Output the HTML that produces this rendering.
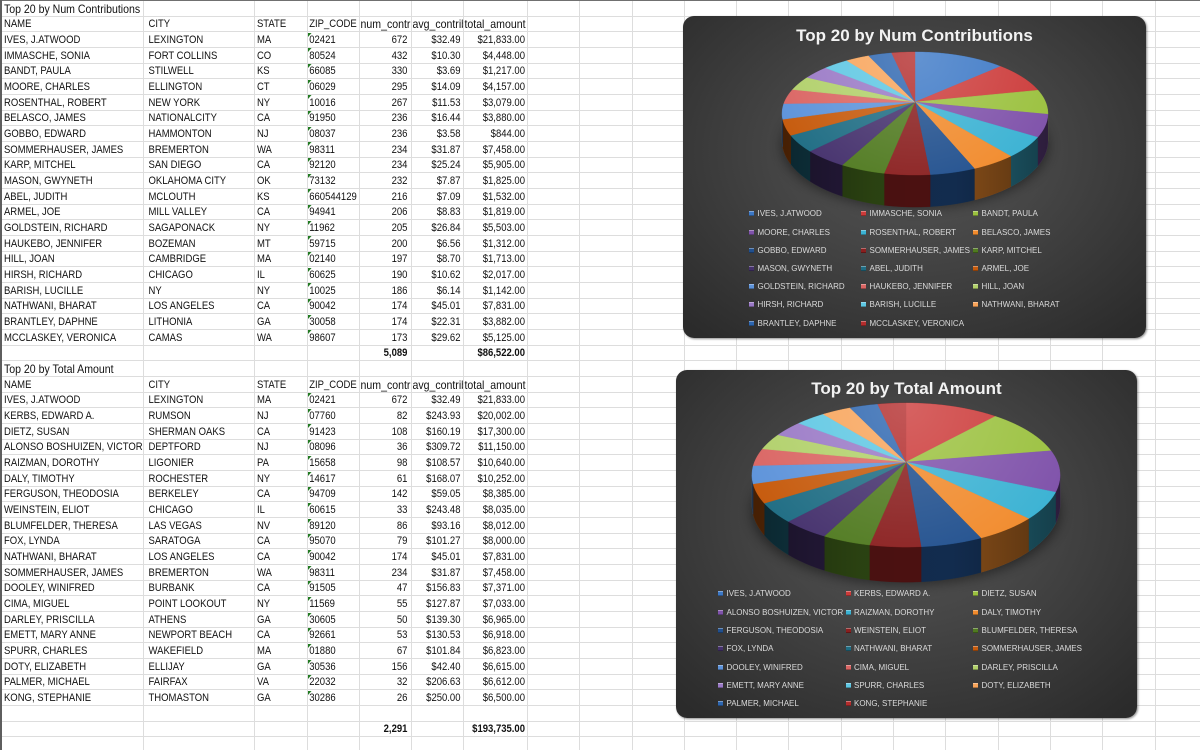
<!DOCTYPE html>
<html>
<head>
<meta charset="utf-8">
<style>
  html,body{margin:0;padding:0;}
  body{width:1200px;height:750px;position:relative;overflow:hidden;background:#fff;font-family:"Liberation Sans",Arial,sans-serif;color:#111;}
  #grid{position:absolute;left:0;top:0;}
  .r{position:absolute;left:0;width:700px;height:15.67px;font-size:10.8px;transform:scaleX(0.88);transform-origin:0 0;}
  .r span{position:absolute;top:1.2px;height:15.67px;line-height:15.67px;overflow:hidden;white-space:nowrap;box-sizing:border-box;}
  .c0{left:0;width:162.5px;padding-left:4.5px;}
  .c1{left:162.5px;width:126.1px;padding-left:6.25px;}
  .c2{left:288.6px;width:60.3px;padding-left:3.4px;}
  .c3{left:348.9px;width:59.1px;padding-left:2.5px;}
  .c4{left:408px;width:59px;text-align:right;padding-right:4px;}
  .c5{left:467px;width:59.1px;text-align:right;padding-right:2.8px;}
  .c6{left:526.1px;width:72.8px;text-align:right;padding-right:2.3px;}
  .r span.l{text-align:left;padding-left:1.7px;padding-right:0;}
  .r span.v{overflow:visible;}
  .r span.mx{font-size:12px;}
  .r span.b{font-weight:bold;}
  .t{position:absolute;left:350px;top:1px;width:0;height:0;border-top:4px solid #217a21;border-right:4.5px solid transparent;}
  .chart{position:absolute;border-radius:11px;background:radial-gradient(ellipse 70% 75% at 50% 42%,#555 0%,#464646 40%,#2b2b2b 100%);box-shadow:1px 1px 2px rgba(0,0,0,.45);}
  .title{position:absolute;text-align:center;color:#f2f2f2;font-weight:bold;font-size:17px;line-height:20px;white-space:nowrap;}
  .lt{position:absolute;font-size:8px;line-height:10px;color:#dadada;white-space:nowrap;}
  .m{position:absolute;width:5px;height:5px;box-shadow:inset 0 1px 0 rgba(255,255,255,.35),inset 0 -1px 0 rgba(0,0,0,.3);}
  #pies{position:absolute;left:0;top:0;}
</style>
</head>
<body>
<svg id="grid" width="1200" height="750"></svg>

<!-- Table 1 -->
<div class="r" style="top:0.4px"><span class="c0 v mx">Top 20 by Num Contributions</span></div>
<div class="r" style="top:16.07px"><span class="c0">NAME</span><span class="c1">CITY</span><span class="c2">STATE</span><span class="c3">ZIP_CODE</span><span class="c4 l mx">num_contributions</span><span class="c5 l mx">avg_contribution</span><span class="c6 l v mx">total_amount</span></div>
<div class="r" style="top:31.74px"><span class="c0">IVES, J.ATWOOD</span><span class="c1">LEXINGTON</span><span class="c2">MA</span><i class="t"></i><span class="c3">02421</span><span class="c4">672</span><span class="c5">$32.49</span><span class="c6">$21,833.00</span></div>
<div class="r" style="top:47.41px"><span class="c0">IMMASCHE, SONIA</span><span class="c1">FORT COLLINS</span><span class="c2">CO</span><i class="t"></i><span class="c3">80524</span><span class="c4">432</span><span class="c5">$10.30</span><span class="c6">$4,448.00</span></div>
<div class="r" style="top:63.08px"><span class="c0">BANDT, PAULA</span><span class="c1">STILWELL</span><span class="c2">KS</span><i class="t"></i><span class="c3">66085</span><span class="c4">330</span><span class="c5">$3.69</span><span class="c6">$1,217.00</span></div>
<div class="r" style="top:78.75px"><span class="c0">MOORE, CHARLES</span><span class="c1">ELLINGTON</span><span class="c2">CT</span><i class="t"></i><span class="c3">06029</span><span class="c4">295</span><span class="c5">$14.09</span><span class="c6">$4,157.00</span></div>
<div class="r" style="top:94.42px"><span class="c0">ROSENTHAL, ROBERT</span><span class="c1">NEW YORK</span><span class="c2">NY</span><i class="t"></i><span class="c3">10016</span><span class="c4">267</span><span class="c5">$11.53</span><span class="c6">$3,079.00</span></div>
<div class="r" style="top:110.09px"><span class="c0">BELASCO, JAMES</span><span class="c1">NATIONALCITY</span><span class="c2">CA</span><i class="t"></i><span class="c3">91950</span><span class="c4">236</span><span class="c5">$16.44</span><span class="c6">$3,880.00</span></div>
<div class="r" style="top:125.76px"><span class="c0">GOBBO, EDWARD</span><span class="c1">HAMMONTON</span><span class="c2">NJ</span><i class="t"></i><span class="c3">08037</span><span class="c4">236</span><span class="c5">$3.58</span><span class="c6">$844.00</span></div>
<div class="r" style="top:141.43px"><span class="c0">SOMMERHAUSER, JAMES</span><span class="c1">BREMERTON</span><span class="c2">WA</span><i class="t"></i><span class="c3">98311</span><span class="c4">234</span><span class="c5">$31.87</span><span class="c6">$7,458.00</span></div>
<div class="r" style="top:157.1px"><span class="c0">KARP, MITCHEL</span><span class="c1">SAN DIEGO</span><span class="c2">CA</span><i class="t"></i><span class="c3">92120</span><span class="c4">234</span><span class="c5">$25.24</span><span class="c6">$5,905.00</span></div>
<div class="r" style="top:172.77px"><span class="c0">MASON, GWYNETH</span><span class="c1">OKLAHOMA CITY</span><span class="c2">OK</span><i class="t"></i><span class="c3">73132</span><span class="c4">232</span><span class="c5">$7.87</span><span class="c6">$1,825.00</span></div>
<div class="r" style="top:188.44px"><span class="c0">ABEL, JUDITH</span><span class="c1">MCLOUTH</span><span class="c2">KS</span><i class="t"></i><span class="c3">660544129</span><span class="c4">216</span><span class="c5">$7.09</span><span class="c6">$1,532.00</span></div>
<div class="r" style="top:204.11px"><span class="c0">ARMEL, JOE</span><span class="c1">MILL VALLEY</span><span class="c2">CA</span><i class="t"></i><span class="c3">94941</span><span class="c4">206</span><span class="c5">$8.83</span><span class="c6">$1,819.00</span></div>
<div class="r" style="top:219.78px"><span class="c0">GOLDSTEIN, RICHARD</span><span class="c1">SAGAPONACK</span><span class="c2">NY</span><i class="t"></i><span class="c3">11962</span><span class="c4">205</span><span class="c5">$26.84</span><span class="c6">$5,503.00</span></div>
<div class="r" style="top:235.45px"><span class="c0">HAUKEBO, JENNIFER</span><span class="c1">BOZEMAN</span><span class="c2">MT</span><i class="t"></i><span class="c3">59715</span><span class="c4">200</span><span class="c5">$6.56</span><span class="c6">$1,312.00</span></div>
<div class="r" style="top:251.12px"><span class="c0">HILL, JOAN</span><span class="c1">CAMBRIDGE</span><span class="c2">MA</span><i class="t"></i><span class="c3">02140</span><span class="c4">197</span><span class="c5">$8.70</span><span class="c6">$1,713.00</span></div>
<div class="r" style="top:266.79px"><span class="c0">HIRSH, RICHARD</span><span class="c1">CHICAGO</span><span class="c2">IL</span><i class="t"></i><span class="c3">60625</span><span class="c4">190</span><span class="c5">$10.62</span><span class="c6">$2,017.00</span></div>
<div class="r" style="top:282.46px"><span class="c0">BARISH, LUCILLE</span><span class="c1">NY</span><span class="c2">NY</span><i class="t"></i><span class="c3">10025</span><span class="c4">186</span><span class="c5">$6.14</span><span class="c6">$1,142.00</span></div>
<div class="r" style="top:298.13px"><span class="c0">NATHWANI, BHARAT</span><span class="c1">LOS ANGELES</span><span class="c2">CA</span><i class="t"></i><span class="c3">90042</span><span class="c4">174</span><span class="c5">$45.01</span><span class="c6">$7,831.00</span></div>
<div class="r" style="top:313.8px"><span class="c0">BRANTLEY, DAPHNE</span><span class="c1">LITHONIA</span><span class="c2">GA</span><i class="t"></i><span class="c3">30058</span><span class="c4">174</span><span class="c5">$22.31</span><span class="c6">$3,882.00</span></div>
<div class="r" style="top:329.47px"><span class="c0">MCCLASKEY, VERONICA</span><span class="c1">CAMAS</span><span class="c2">WA</span><i class="t"></i><span class="c3">98607</span><span class="c4">173</span><span class="c5">$29.62</span><span class="c6">$5,125.00</span></div>
<div class="r" style="top:345.14px"><span class="c4 b">5,089</span><span class="c6 b">$86,522.00</span></div>

<!-- Table 2 -->
<div class="r" style="top:360.81px"><span class="c0 v mx">Top 20 by Total Amount</span></div>
<div class="r" style="top:376.48px"><span class="c0">NAME</span><span class="c1">CITY</span><span class="c2">STATE</span><span class="c3">ZIP_CODE</span><span class="c4 l mx">num_contributions</span><span class="c5 l mx">avg_contribution</span><span class="c6 l v mx">total_amount</span></div>
<div class="r" style="top:392.15px"><span class="c0">IVES, J.ATWOOD</span><span class="c1">LEXINGTON</span><span class="c2">MA</span><i class="t"></i><span class="c3">02421</span><span class="c4">672</span><span class="c5">$32.49</span><span class="c6">$21,833.00</span></div>
<div class="r" style="top:407.82px"><span class="c0">KERBS, EDWARD A.</span><span class="c1">RUMSON</span><span class="c2">NJ</span><i class="t"></i><span class="c3">07760</span><span class="c4">82</span><span class="c5">$243.93</span><span class="c6">$20,002.00</span></div>
<div class="r" style="top:423.49px"><span class="c0">DIETZ, SUSAN</span><span class="c1">SHERMAN OAKS</span><span class="c2">CA</span><i class="t"></i><span class="c3">91423</span><span class="c4">108</span><span class="c5">$160.19</span><span class="c6">$17,300.00</span></div>
<div class="r" style="top:439.16px"><span class="c0">ALONSO BOSHUIZEN, VICTOR</span><span class="c1">DEPTFORD</span><span class="c2">NJ</span><i class="t"></i><span class="c3">08096</span><span class="c4">36</span><span class="c5">$309.72</span><span class="c6">$11,150.00</span></div>
<div class="r" style="top:454.83px"><span class="c0">RAIZMAN, DOROTHY</span><span class="c1">LIGONIER</span><span class="c2">PA</span><i class="t"></i><span class="c3">15658</span><span class="c4">98</span><span class="c5">$108.57</span><span class="c6">$10,640.00</span></div>
<div class="r" style="top:470.5px"><span class="c0">DALY, TIMOTHY</span><span class="c1">ROCHESTER</span><span class="c2">NY</span><i class="t"></i><span class="c3">14617</span><span class="c4">61</span><span class="c5">$168.07</span><span class="c6">$10,252.00</span></div>
<div class="r" style="top:486.17px"><span class="c0">FERGUSON, THEODOSIA</span><span class="c1">BERKELEY</span><span class="c2">CA</span><i class="t"></i><span class="c3">94709</span><span class="c4">142</span><span class="c5">$59.05</span><span class="c6">$8,385.00</span></div>
<div class="r" style="top:501.84px"><span class="c0">WEINSTEIN, ELIOT</span><span class="c1">CHICAGO</span><span class="c2">IL</span><i class="t"></i><span class="c3">60615</span><span class="c4">33</span><span class="c5">$243.48</span><span class="c6">$8,035.00</span></div>
<div class="r" style="top:517.51px"><span class="c0">BLUMFELDER, THERESA</span><span class="c1">LAS VEGAS</span><span class="c2">NV</span><i class="t"></i><span class="c3">89120</span><span class="c4">86</span><span class="c5">$93.16</span><span class="c6">$8,012.00</span></div>
<div class="r" style="top:533.18px"><span class="c0">FOX, LYNDA</span><span class="c1">SARATOGA</span><span class="c2">CA</span><i class="t"></i><span class="c3">95070</span><span class="c4">79</span><span class="c5">$101.27</span><span class="c6">$8,000.00</span></div>
<div class="r" style="top:548.85px"><span class="c0">NATHWANI, BHARAT</span><span class="c1">LOS ANGELES</span><span class="c2">CA</span><i class="t"></i><span class="c3">90042</span><span class="c4">174</span><span class="c5">$45.01</span><span class="c6">$7,831.00</span></div>
<div class="r" style="top:564.52px"><span class="c0">SOMMERHAUSER, JAMES</span><span class="c1">BREMERTON</span><span class="c2">WA</span><i class="t"></i><span class="c3">98311</span><span class="c4">234</span><span class="c5">$31.87</span><span class="c6">$7,458.00</span></div>
<div class="r" style="top:580.19px"><span class="c0">DOOLEY, WINIFRED</span><span class="c1">BURBANK</span><span class="c2">CA</span><i class="t"></i><span class="c3">91505</span><span class="c4">47</span><span class="c5">$156.83</span><span class="c6">$7,371.00</span></div>
<div class="r" style="top:595.86px"><span class="c0">CIMA, MIGUEL</span><span class="c1">POINT LOOKOUT</span><span class="c2">NY</span><i class="t"></i><span class="c3">11569</span><span class="c4">55</span><span class="c5">$127.87</span><span class="c6">$7,033.00</span></div>
<div class="r" style="top:611.53px"><span class="c0">DARLEY, PRISCILLA</span><span class="c1">ATHENS</span><span class="c2">GA</span><i class="t"></i><span class="c3">30605</span><span class="c4">50</span><span class="c5">$139.30</span><span class="c6">$6,965.00</span></div>
<div class="r" style="top:627.2px"><span class="c0">EMETT, MARY ANNE</span><span class="c1">NEWPORT BEACH</span><span class="c2">CA</span><i class="t"></i><span class="c3">92661</span><span class="c4">53</span><span class="c5">$130.53</span><span class="c6">$6,918.00</span></div>
<div class="r" style="top:642.87px"><span class="c0">SPURR, CHARLES</span><span class="c1">WAKEFIELD</span><span class="c2">MA</span><i class="t"></i><span class="c3">01880</span><span class="c4">67</span><span class="c5">$101.84</span><span class="c6">$6,823.00</span></div>
<div class="r" style="top:658.54px"><span class="c0">DOTY, ELIZABETH</span><span class="c1">ELLIJAY</span><span class="c2">GA</span><i class="t"></i><span class="c3">30536</span><span class="c4">156</span><span class="c5">$42.40</span><span class="c6">$6,615.00</span></div>
<div class="r" style="top:674.21px"><span class="c0">PALMER, MICHAEL</span><span class="c1">FAIRFAX</span><span class="c2">VA</span><i class="t"></i><span class="c3">22032</span><span class="c4">32</span><span class="c5">$206.63</span><span class="c6">$6,612.00</span></div>
<div class="r" style="top:689.88px"><span class="c0">KONG, STEPHANIE</span><span class="c1">THOMASTON</span><span class="c2">GA</span><i class="t"></i><span class="c3">30286</span><span class="c4">26</span><span class="c5">$250.00</span><span class="c6">$6,500.00</span></div>
<div class="r" style="top:721.22px"><span class="c4 b">2,291</span><span class="c6 b">$193,735.00</span></div>

<!-- Charts -->
<div class="chart" style="left:683px;top:16px;width:463px;height:322px;"></div>
<div class="chart" style="left:676px;top:370px;width:461px;height:348px;"></div>

<div class="title" style="left:683px;top:25.8px;width:463px;">Top 20 by Num Contributions</div>
<div class="title" style="left:676px;top:379.3px;width:461px;">Top 20 by Total Amount</div>

<svg id="pies" width="1200" height="750">
  <defs>
    <filter id="blur" x="-30%" y="-30%" width="160%" height="160%"><feGaussianBlur stdDeviation="6"/></filter>
    <radialGradient id="h1" gradientUnits="userSpaceOnUse" cx="915" cy="55" r="160">
      <stop offset="0" stop-color="#fff" stop-opacity="0.2"/><stop offset="1" stop-color="#fff" stop-opacity="0"/>
    </radialGradient>
    <radialGradient id="h2" gradientUnits="userSpaceOnUse" cx="906" cy="405" r="185">
      <stop offset="0" stop-color="#fff" stop-opacity="0.2"/><stop offset="1" stop-color="#fff" stop-opacity="0"/>
    </radialGradient>
    <linearGradient id="s1" gradientUnits="userSpaceOnUse" x1="782" y1="0" x2="1048" y2="0">
      <stop offset="0" stop-color="#000" stop-opacity="0.4"/><stop offset="0.35" stop-color="#000" stop-opacity="0.08"/><stop offset="0.65" stop-color="#000" stop-opacity="0.05"/><stop offset="1" stop-color="#000" stop-opacity="0.4"/>
    </linearGradient>
    <linearGradient id="s2" gradientUnits="userSpaceOnUse" x1="752" y1="0" x2="1060" y2="0">
      <stop offset="0" stop-color="#000" stop-opacity="0.4"/><stop offset="0.35" stop-color="#000" stop-opacity="0.08"/><stop offset="0.65" stop-color="#000" stop-opacity="0.05"/><stop offset="1" stop-color="#000" stop-opacity="0.4"/>
    </linearGradient>
  </defs>
  <g id="pg"></g>
</svg>

<!-- Legend 1 -->
<i class="m" style="left:748.5px;top:211.3px;background:#3c78c6"></i><span class="lt" style="left:757.5px;top:209.45px">IVES, J.ATWOOD</span>
<i class="m" style="left:860.5px;top:211.3px;background:#cc3b3a"></i><span class="lt" style="left:869.5px;top:209.45px">IMMASCHE, SONIA</span>
<i class="m" style="left:972.5px;top:211.3px;background:#9bc13f"></i><span class="lt" style="left:981.5px;top:209.45px">BANDT, PAULA</span>
<i class="m" style="left:748.5px;top:229.5px;background:#7f52aa"></i><span class="lt" style="left:757.5px;top:227.65px">MOORE, CHARLES</span>
<i class="m" style="left:860.5px;top:229.5px;background:#3bb2d3"></i><span class="lt" style="left:869.5px;top:227.65px">ROSENTHAL, ROBERT</span>
<i class="m" style="left:972.5px;top:229.5px;background:#f18b2d"></i><span class="lt" style="left:981.5px;top:227.65px">BELASCO, JAMES</span>
<i class="m" style="left:748.5px;top:247.7px;background:#21508e"></i><span class="lt" style="left:757.5px;top:245.85px">GOBBO, EDWARD</span>
<i class="m" style="left:860.5px;top:247.7px;background:#8a1f1f"></i><span class="lt" style="left:869.5px;top:245.85px">SOMMERHAUSER, JAMES</span>
<i class="m" style="left:972.5px;top:247.7px;background:#507a20"></i><span class="lt" style="left:981.5px;top:245.85px">KARP, MITCHEL</span>
<i class="m" style="left:748.5px;top:265.9px;background:#45316d"></i><span class="lt" style="left:757.5px;top:264.05px">MASON, GWYNETH</span>
<i class="m" style="left:860.5px;top:265.9px;background:#1f6d84"></i><span class="lt" style="left:869.5px;top:264.05px">ABEL, JUDITH</span>
<i class="m" style="left:972.5px;top:265.9px;background:#c65a0c"></i><span class="lt" style="left:981.5px;top:264.05px">ARMEL, JOE</span>
<i class="m" style="left:748.5px;top:284.1px;background:#5d93da"></i><span class="lt" style="left:757.5px;top:282.25px">GOLDSTEIN, RICHARD</span>
<i class="m" style="left:860.5px;top:284.1px;background:#da6563"></i><span class="lt" style="left:869.5px;top:282.25px">HAUKEBO, JENNIFER</span>
<i class="m" style="left:972.5px;top:284.1px;background:#b1d06a"></i><span class="lt" style="left:981.5px;top:282.25px">HILL, JOAN</span>
<i class="m" style="left:748.5px;top:302.3px;background:#9a79c6"></i><span class="lt" style="left:757.5px;top:300.45px">HIRSH, RICHARD</span>
<i class="m" style="left:860.5px;top:302.3px;background:#5ec7e3"></i><span class="lt" style="left:869.5px;top:300.45px">BARISH, LUCILLE</span>
<i class="m" style="left:972.5px;top:302.3px;background:#f8a45a"></i><span class="lt" style="left:981.5px;top:300.45px">NATHWANI, BHARAT</span>
<i class="m" style="left:748.5px;top:320.5px;background:#2d66b0"></i><span class="lt" style="left:757.5px;top:318.65px">BRANTLEY, DAPHNE</span>
<i class="m" style="left:860.5px;top:320.5px;background:#b32d2d"></i><span class="lt" style="left:869.5px;top:318.65px">MCCLASKEY, VERONICA</span>

<!-- Legend 2 -->
<i class="m" style="left:718.2px;top:591.3px;background:#3c78c6"></i><span class="lt" style="left:726.5px;top:589.45px">IVES, J.ATWOOD</span>
<i class="m" style="left:845.5px;top:591.3px;background:#cc3b3a"></i><span class="lt" style="left:854px;top:589.45px">KERBS, EDWARD A.</span>
<i class="m" style="left:973.2px;top:591.3px;background:#9bc13f"></i><span class="lt" style="left:981.5px;top:589.45px">DIETZ, SUSAN</span>
<i class="m" style="left:718.2px;top:609.6px;background:#7f52aa"></i><span class="lt" style="left:726.5px;top:607.75px">ALONSO BOSHUIZEN, VICTOR</span>
<i class="m" style="left:845.5px;top:609.6px;background:#3bb2d3"></i><span class="lt" style="left:854px;top:607.75px">RAIZMAN, DOROTHY</span>
<i class="m" style="left:973.2px;top:609.6px;background:#f18b2d"></i><span class="lt" style="left:981.5px;top:607.75px">DALY, TIMOTHY</span>
<i class="m" style="left:718.2px;top:627.9px;background:#21508e"></i><span class="lt" style="left:726.5px;top:626.05px">FERGUSON, THEODOSIA</span>
<i class="m" style="left:845.5px;top:627.9px;background:#8a1f1f"></i><span class="lt" style="left:854px;top:626.05px">WEINSTEIN, ELIOT</span>
<i class="m" style="left:973.2px;top:627.9px;background:#507a20"></i><span class="lt" style="left:981.5px;top:626.05px">BLUMFELDER, THERESA</span>
<i class="m" style="left:718.2px;top:646.2px;background:#45316d"></i><span class="lt" style="left:726.5px;top:644.35px">FOX, LYNDA</span>
<i class="m" style="left:845.5px;top:646.2px;background:#1f6d84"></i><span class="lt" style="left:854px;top:644.35px">NATHWANI, BHARAT</span>
<i class="m" style="left:973.2px;top:646.2px;background:#c65a0c"></i><span class="lt" style="left:981.5px;top:644.35px">SOMMERHAUSER, JAMES</span>
<i class="m" style="left:718.2px;top:664.5px;background:#5d93da"></i><span class="lt" style="left:726.5px;top:662.65px">DOOLEY, WINIFRED</span>
<i class="m" style="left:845.5px;top:664.5px;background:#da6563"></i><span class="lt" style="left:854px;top:662.65px">CIMA, MIGUEL</span>
<i class="m" style="left:973.2px;top:664.5px;background:#b1d06a"></i><span class="lt" style="left:981.5px;top:662.65px">DARLEY, PRISCILLA</span>
<i class="m" style="left:718.2px;top:682.8px;background:#9a79c6"></i><span class="lt" style="left:726.5px;top:680.95px">EMETT, MARY ANNE</span>
<i class="m" style="left:845.5px;top:682.8px;background:#5ec7e3"></i><span class="lt" style="left:854px;top:680.95px">SPURR, CHARLES</span>
<i class="m" style="left:973.2px;top:682.8px;background:#f8a45a"></i><span class="lt" style="left:981.5px;top:680.95px">DOTY, ELIZABETH</span>
<i class="m" style="left:718.2px;top:701.1px;background:#2d66b0"></i><span class="lt" style="left:726.5px;top:699.25px">PALMER, MICHAEL</span>
<i class="m" style="left:845.5px;top:701.1px;background:#b32d2d"></i><span class="lt" style="left:854px;top:699.25px">KONG, STEPHANIE</span>

<script>
(function(){
  // Grid
  var g=document.getElementById('grid');
  var s='';
  var xs=[143,254,307,359,411,463,527,579,632,684,736,788,841,893,945,998,1050,1102,1155];
  xs.forEach(function(x){s+='<rect x="'+x+'" y="0" width="1" height="750" fill="#dddddd"/>';});
  for(var k=1;k<=48;k++){var y=Math.round(0.4+15.67*k-0.5);s+='<rect x="0" y="'+y+'" width="1200" height="1" fill="#dddddd"/>';}
  s+='<rect x="0" y="0" width="1200" height="1" fill="#707070"/><rect x="0" y="0" width="2" height="750" fill="#5e5e5e"/>';
  g.innerHTML=s;

  // Pies
  var pal=['#3c78c6','#cc3b3a','#9bc13f','#7f52aa','#3bb2d3','#f18b2d','#21508e','#8a1f1f','#507a20','#45316d','#1f6d84','#c65a0c','#5d93da','#da6563','#b1d06a','#9a79c6','#5ec7e3','#f8a45a','#2d66b0','#b32d2d'];
  function shade(h,f){var r=parseInt(h.substr(1,2),16),gg=parseInt(h.substr(3,2),16),b=parseInt(h.substr(5,2),16);
    return 'rgb('+Math.round(r*f)+','+Math.round(gg*f)+','+Math.round(b*f)+')';}
  var out='';
  function pie(cx,cy,rx,ry,p,dep,vals,cols,hid,sid){
    var tot=0;vals.forEach(function(v){tot+=v;});
    function P(t,d){var c=Math.cos(t),sn=Math.sin(t),k=1/(1+p*c);return [cx+rx*sn*k, cy-ry*c*k+(d?dep*k:0)];}
    function f(v){return v[0].toFixed(2)+','+v[1].toFixed(2);}
    var t1=Math.acos(-p),t2=2*Math.PI-t1,step=Math.PI/180;
    out+='<ellipse cx="'+cx+'" cy="'+(cy+ry*0.3+dep)+'" rx="'+(rx*1.02)+'" ry="'+(ry*1.05)+'" fill="#000" opacity="0.45" filter="url(#blur)"/>';
    var a=0,sl=[];
    vals.forEach(function(v,i){var b=a+v/tot*2*Math.PI;sl.push([a,b,cols[i]]);a=b;});
    sl.forEach(function(q){var st=Math.max(q[0],t1),en=Math.min(q[1],t2);if(en<=st)return;
      var top=[],bot=[];for(var t=st;t<en;t+=step){top.push(P(t,0));bot.push(P(t,1));}
      top.push(P(en,0));bot.push(P(en,1));bot.reverse();
      out+='<path d="M'+top.map(f).join('L')+'L'+bot.map(f).join('L')+'Z" fill="'+shade(q[2],0.58)+'" stroke="'+shade(q[2],0.58)+'" stroke-width="0.4"/>';
    });
    var tp=[],bp=[];for(var t=t1;t<t2;t+=step){tp.push(P(t,0));bp.push(P(t,1));}
    tp.push(P(t2,0));bp.push(P(t2,1));bp.reverse();
    out+='<path d="M'+tp.map(f).join('L')+'L'+bp.map(f).join('L')+'Z" fill="url(#'+sid+')"/>';
    sl.forEach(function(q){var pts=[[cx,cy]];for(var t=q[0];t<q[1];t+=step)pts.push(P(t,0));pts.push(P(q[1],0));
      out+='<path d="M'+pts.map(f).join('L')+'Z" fill="'+q[2]+'" stroke="'+q[2]+'" stroke-width="0.4"/>';
    });
    var ring=[];for(var t=0;t<2*Math.PI;t+=step)ring.push(P(t,0));
    out+='<path d="M'+ring.map(f).join('L')+'Z" fill="url(#'+hid+')"/>';
  }
  var v1=[672,432,330,295,267,236,236,234,234,232,216,206,205,200,197,190,186,174,174,173];
  pie(915,102,130.6,59.4,0.187,26,v1,pal,'h1','s1');
  var v2=[21833,20002,17300,11150,10640,10252,8385,8035,8012,8000,7831,7458,7371,7033,6965,6918,6823,6615,6612];
  pie(906,462,151.5,69.7,0.181,28.7,v2,pal.slice(1),'h2','s2');
  document.getElementById('pg').innerHTML=out;
})();
</script>
</body>
</html>
